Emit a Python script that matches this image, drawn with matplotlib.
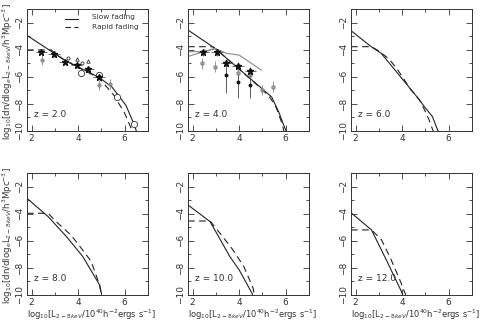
import matplotlib
matplotlib.use("Agg")
import matplotlib.pyplot as plt
from matplotlib.ticker import MultipleLocator

# ---------------- data ----------------
redshifts = ["2.0", "4.0", "6.0", "8.0", "10.0", "12.0"]

slow_x = [
    [1.8, 3.0, 3.45, 4.9, 5.45, 6.05, 6.35, 6.5],
    [1.8, 3.0, 3.5, 5.0, 5.4, 5.7, 5.92, 6.02],
    [1.8, 2.67, 3.1, 4.74, 4.95, 5.3, 5.52, 5.55],
    [1.8, 2.71, 3.5, 4.2, 4.92, 5.0],
    [1.8, 2.75, 3.6, 4.0, 4.55, 4.58],
    [1.8, 2.68, 3.32, 3.97, 4.02],
]
slow_y = [
    [-2.95, -4.3, -4.8, -6.05, -6.75, -8.1, -9.3, -10.0],
    [-2.55, -3.95, -4.7, -6.9, -7.5, -8.6, -9.6, -10.0],
    [-2.6, -3.78, -4.27, -7.7, -8.2, -8.94, -9.92, -10.0],
    [-2.87, -4.22, -5.7, -7.17, -9.26, -9.9],
    [-3.36, -4.59, -7.17, -8.15, -9.87, -10.0],
    [-3.93, -5.2, -7.42, -9.75, -10.0],
]

rapid_x = [
    [1.8, 2.85, 3.0, 3.45, 4.9, 5.3, 5.55, 6.0, 6.2, 6.32],
    [1.8, 2.85, 3.0, 3.5, 5.0, 5.35, 5.6, 5.85, 5.92],
    [1.8, 2.67, 3.0, 3.45, 3.81, 4.38, 4.74, 4.95, 5.16, 5.33],
    [1.8, 2.71, 3.0, 3.7, 4.2, 4.55, 4.92, 4.98],
    [1.8, 2.75, 3.2, 3.7, 4.2, 4.6, 4.65],
    [1.8, 2.68, 3.1, 3.5, 3.95, 4.15],
]
rapid_y = [
    [-4.02, -4.02, -4.3, -4.82, -6.1, -6.9, -7.4, -8.7, -9.5, -10.0],
    [-3.78, -3.78, -3.95, -4.7, -6.95, -7.6, -8.3, -9.5, -10.0],
    [-3.78, -3.78, -4.1, -4.71, -5.5, -6.97, -7.7, -8.4, -9.2, -10.0],
    [-3.97, -3.97, -4.5, -5.6, -6.7, -7.5, -9.26, -9.9],
    [-4.54, -4.54, -5.5, -6.6, -7.9, -9.5, -10.0],
    [-5.2, -5.2, -5.9, -7.3, -9.1, -10.0],
]

# z = 2 observations
z2_star_x = [2.42, 2.97, 3.42, 3.93, 4.43, 4.9]
z2_star_y = [-4.15, -4.32, -4.88, -5.13, -5.45, -6.0]
z2_bigcirc_x = [4.11, 4.89, 5.65, 6.4]
z2_bigcirc_y = [-5.7, -5.87, -7.5, -9.45]
z2_tri_x = [3.93, 4.43]
z2_tri_y = [-4.71, -4.83]
z2_smallcirc_x = [3.56, 4.17]
z2_smallcirc_y = [-4.64, -5.0]
z2_grey_x = [2.45, 4.89, 5.36]
z2_grey_y = [-4.76, -6.6, -6.55]

# z = 4 observations
z4_star_x = [2.46, 3.05, 3.45, 3.95, 4.48]
z4_star_y = [-4.2, -4.2, -4.96, -5.18, -5.55]
z4_grey_x = [2.41, 2.95, 3.95, 4.48, 5.0, 5.45]
z4_grey_y = [-5.0, -5.25, -5.75, -5.87, -6.97, -6.73]
z4_dot_x = [3.45, 3.95, 4.48]
z4_dot_y = [-5.87, -6.36, -6.6]
z4_dot_lo = [-7.2, -7.6, -7.6]
z4_dot_hi = [-5.0, -5.8, -5.9]
z4_lineA_x = [1.8, 2.95, 3.45, 4.0, 4.95]
z4_lineA_y = [-4.5, -3.9, -4.27, -4.4, -5.5]
z4_lineB_x = [1.8, 2.5, 2.95]
z4_lineB_y = [-4.15, -4.15, -3.95]

xticks = [2, 4, 6]
yticks = [-2, -4, -6, -8, -10]

# ---------------- figure ----------------
W, H = 480, 321
fig = plt.figure(figsize=(W / 100, H / 100), dpi=100)
plt.rcParams['font.family'] = ['DejaVu Sans']
ink = '#333333'
grey = '#888888'

lefts = [27, 188, 351]
tops = [9, 173]
aw, ah = 121, 122

axes = []
for r in range(2):
    for c in range(3):
        ax = fig.add_axes([lefts[c] / W, 1 - (tops[r] + ah) / H, aw / W, ah / H])
        axes.append(ax)

for i, ax in enumerate(axes):
    ax.set_xlim(1.8, 7.0)
    ax.set_ylim(-10, -1)
    ax.set_xticks(xticks)
    ax.set_yticks(yticks)
    ax.xaxis.set_minor_locator(MultipleLocator(1))
    ax.yaxis.set_minor_locator(MultipleLocator(1))
    ax.tick_params(which='both', direction='in', top=True, right=True,
                   colors=ink, width=0.6, labelsize=6.5, pad=2.5)
    ax.tick_params(which='major', length=4)
    ax.tick_params(which='minor', length=2)
    ax.set_yticklabels([f"\u2212{abs(v)}" for v in yticks], rotation=90, va='center')
    for s in ax.spines.values():
        s.set_linewidth(0.7)
        s.set_color(ink)
    ax.plot(slow_x[i], slow_y[i], '-', color='#222222', lw=0.8)
    ax.plot(rapid_x[i], rapid_y[i], color='#222222', lw=0.8, dashes=(6, 4))
    ax.text(2.1, -9.0, f"z = {redshifts[i]}", fontsize=6.5, color=ink)

# z=2 observations
ax = axes[0]
ax.errorbar(z2_grey_x, z2_grey_y, yerr=0.35, fmt='o', ms=2, mfc='none', mec=grey,
            ecolor=grey, elinewidth=0.6, capsize=0)
ax.errorbar(z2_star_x, z2_star_y, xerr=0.25, yerr=0.2, fmt='*', ms=4.5, color='#111111',
            ecolor='#555555', elinewidth=0.6, capsize=0)
ax.plot(z2_bigcirc_x, z2_bigcirc_y, 'o', ms=4.5, mfc='white', mec='#333333', mew=0.6)
ax.plot(z2_tri_x, z2_tri_y, '^', ms=2.5, mfc='white', mec='#333333', mew=0.6)
ax.plot(z2_smallcirc_x, z2_smallcirc_y, 'o', ms=2.2, mfc='white', mec='#333333', mew=0.6)
ax.plot([3.45, 4.0], [-1.75, -1.75], '-', color='#222222', lw=0.8)
ax.plot([3.45, 4.0], [-2.35, -2.35], color='#222222', lw=0.8, dashes=(5, 3))
ax.text(4.6, -1.6, "Slow fading", fontsize=5.3, color=ink, va='center')
ax.text(4.6, -2.3, "Rapid fading", fontsize=5.3, color=ink, va='center')

# z=4 observations
ax = axes[1]
ax.plot(z4_lineA_x, z4_lineA_y, '-', color=grey, lw=0.8)
ax.plot(z4_lineB_x, z4_lineB_y, '-', color=grey, lw=0.8)
ax.errorbar(z4_grey_x, z4_grey_y, yerr=0.4, fmt='o', ms=2.2, mfc='none', mec=grey,
            ecolor=grey, elinewidth=0.6, capsize=0)
err_lo = [y - lo for y, lo in zip(z4_dot_y, z4_dot_lo)]
err_hi = [hi - y for y, hi in zip(z4_dot_y, z4_dot_hi)]
ax.errorbar(z4_dot_x, z4_dot_y, yerr=[err_lo, err_hi], fmt='o', ms=1.8, color='#111111',
            ecolor='#444444', elinewidth=0.6, capsize=0)
ax.errorbar(z4_star_x, z4_star_y, xerr=0.25, yerr=0.25, fmt='*', ms=4.5, color='#111111',
            ecolor='#555555', elinewidth=0.6, capsize=0)

ylab = r"log$_{10}$[dn/dlog$_e$L$_{2-8keV}$/h$^3$Mpc$^{-3}$]"
xlab = r"log$_{10}$[L$_{2-8keV}$/10$^{40}$h$^{-2}$ergs s$^{-1}$]"
for r in range(2):
    yc = 1 - (tops[r] + ah / 2 + 2) / H
    fig.text(8 / W, yc, ylab, fontsize=6.2, color=ink, rotation=90,
             ha='center', va='center')
for c in range(3):
    fig.text(lefts[c] / W, 1 - 315 / H, xlab, fontsize=6.0, color=ink,
             ha='left', va='center')

fig.savefig("out.png", dpi=100)
